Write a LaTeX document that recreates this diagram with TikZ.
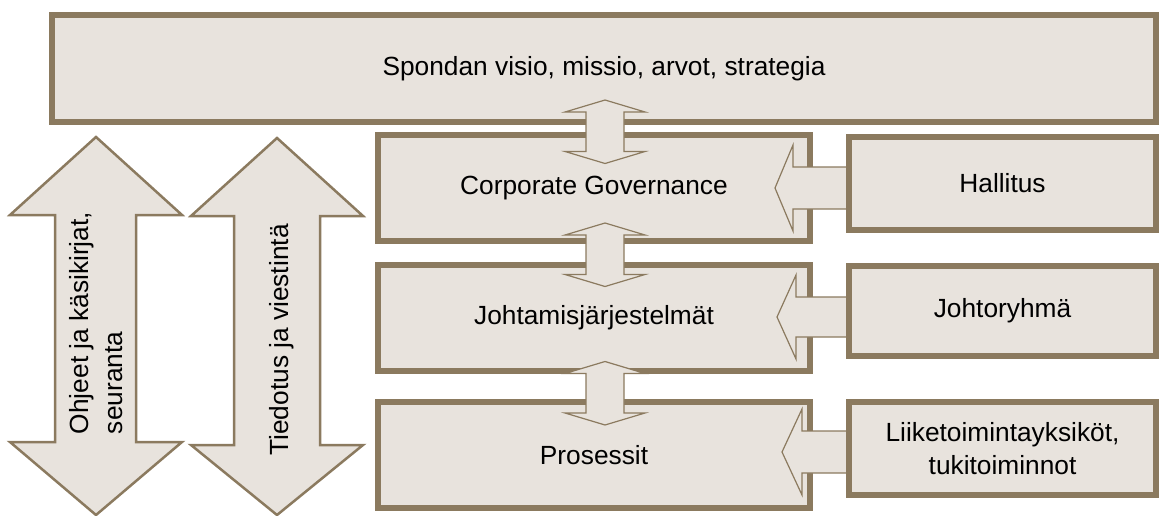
\documentclass[tikz,border=0pt]{standalone}
\usepackage{fontspec}
\setmainfont{Liberation Sans}
\usepackage{tikz}
\usetikzlibrary{calc}
\definecolor{frame}{HTML}{8B7A5F}
\definecolor{paper}{HTML}{E8E3DD}

\begin{document}
\begin{tikzpicture}[
  x=1pt, y=-1pt,
  box/.style={draw=frame, fill=paper, line width=6pt, inner sep=0pt, align=center,
    font=\fontsize{26.3}{33}\selectfont},
  bigarrow/.style={draw=frame, fill=paper, line width=2.5pt},
  thinarrow/.style={draw=frame, fill=paper, line width=1.2pt},
  sidelabel/.style={rotate=90, align=left, font=\fontsize{26.3}{34}\selectfont}
]
  \useasboundingbox (0,0) rectangle (1159,516);

  \draw[bigarrow] (96,137) -- (182,215) -- (136,215) -- (136,442) -- (182,442) -- (96,515)
    -- (10,442) -- (55,442) -- (55,215) -- (10,215) -- cycle;
  \draw[bigarrow] (277,138) -- (363,216) -- (320,216) -- (320,445) -- (363,445) -- (277,515)
    -- (191,445) -- (234,445) -- (234,216) -- (191,216) -- cycle;
  \node[sidelabel] (guide) at (96,323) {Ohjeet ja käsikirjat,\\seuranta};
  \node[sidelabel] (info) at (282,340) {Tiedotus ja viestintä};

  \node[box, minimum width=1104pt, minimum height=107pt] (vision) at (604,68.5) {Spondan visio, missio, arvot, strategia};
  \node[box, minimum width=432pt, minimum height=106pt] (gov) at (594,188) {Corporate Governance};
  \node[box, minimum width=432pt, minimum height=106pt] (mgmt) at (594,318) {Johtamisjärjestelmät};
  \node[box, minimum width=432pt, minimum height=106pt] (proc) at (594,455) {Prosessit};

  \coordinate (m1) at ($(vision.south)!0.5!(gov.north)+(6,3)$);
  \coordinate (m2) at ($(gov.south)!0.5!(mgmt.north)+(11,1.5)$);
  \coordinate (m3) at ($(mgmt.south)!0.5!(proc.north)+(11,6.5)$);
  \draw[thinarrow] ($(m1)+(0,-31.5)$) -- ++(40,12) -- ++(-21,0) -- ++(0,39.5) -- ++(21,0) -- ++(-40,12)
    -- ++(-40,-12) -- ++(21,0) -- ++(0,-39.5) -- ++(-21,0) -- cycle;
  \draw[thinarrow] ($(m2)+(0,-31.5)$) -- ++(40,12) -- ++(-21,0) -- ++(0,39.5) -- ++(21,0) -- ++(-40,12)
    -- ++(-40,-12) -- ++(21,0) -- ++(0,-39.5) -- ++(-21,0) -- cycle;
  \draw[thinarrow] ($(m3)+(0,-31.5)$) -- ++(40,12) -- ++(-21,0) -- ++(0,39.5) -- ++(21,0) -- ++(-40,12)
    -- ++(-40,-12) -- ++(21,0) -- ++(0,-39.5) -- ++(-21,0) -- cycle;

  \node[box, minimum width=307pt, minimum height=93pt] (board) at (1002.5,183.5) {Hallitus};
  \node[box, minimum width=307pt, minimum height=90pt] (team) at (1002.5,311) {Johtoryhmä};
  \node[box, minimum width=307pt, minimum height=93pt] (units) at (1002.5,448.5) {Liiketoimintayksiköt,\\tukitoiminnot};

  \coordinate (t1) at ($(gov.east)+(-38,0)$);
  \coordinate (t2) at ($(mgmt.east)+(-36,-1)$);
  \coordinate (t3) at ($(proc.east)+(-31,-3)$);
  \draw[thinarrow] (t1) -- ++(18,-43) -- ++(0,22) -- ($(board.west |- t1)+(1,-21)$) -- ++(0,42)
    -- ($(t1)+(18,21)$) -- ++(0,22) -- cycle;
  \draw[thinarrow] (t2) -- ++(19,-42) -- ++(0,22) -- ($(team.west |- t2)+(1,-20)$) -- ++(0,40)
    -- ($(t2)+(19,20)$) -- ++(0,22) -- cycle;
  \draw[thinarrow] (t3) -- ++(20,-43) -- ++(0,22) -- ($(units.west |- t3)+(1,-21)$) -- ++(0,42)
    -- ($(t3)+(20,21)$) -- ++(0,22) -- cycle;
  \draw[box, fill=none] (board.north west) ++(3,3) rectangle ($(board.south west)+(3,-3)$);
  \draw[box, fill=none] (team.north west) ++(3,3) rectangle ($(team.south west)+(3,-3)$);
  \draw[box, fill=none] (units.north west) ++(3,3) rectangle ($(units.south west)+(3,-3)$);
\end{tikzpicture}
\end{document}
